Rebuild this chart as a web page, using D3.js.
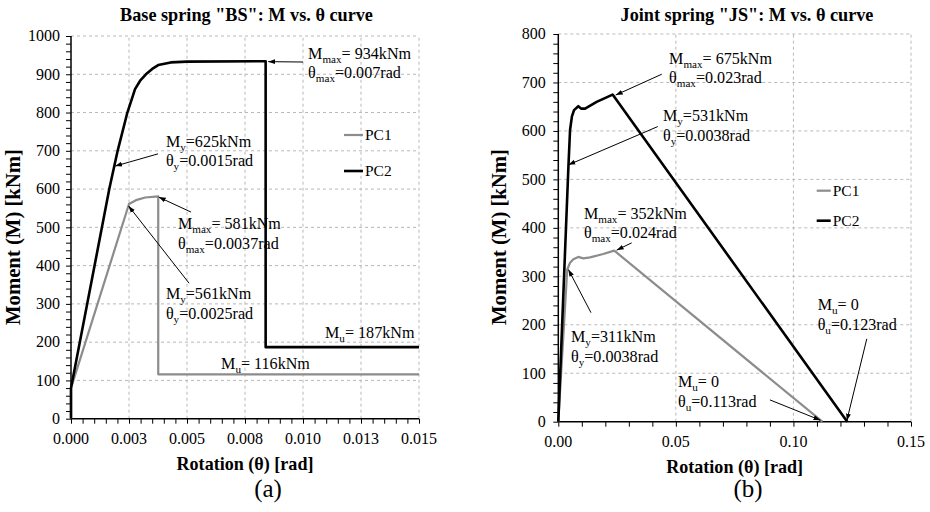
<!DOCTYPE html>
<html><head><meta charset="utf-8">
<script src="https://cdn.jsdelivr.net/npm/d3@7"></script>
<style>
html,body{margin:0;padding:0;background:#fff;}
svg{display:block;}
</style></head>
<body>
<svg id="chart" width="930" height="512" font-family="Liberation Serif, DejaVu Serif, serif"></svg>
<script>
// ---------- DATA ----------
const seriesNames = ["PC1", "PC2"];
// (a) Base spring "BS"
const bsPC1 = [[0,0],[0,80],[0.0025,561],[0.0028,571],[0.0032,578],[0.00376,581],[0.00376,116],[0.015,116]];
const bsPC2 = [[0,0],[0,80],[0.00165,600],[0.00201,700],[0.00243,800],[0.00276,861],[0.0030,885],[0.00323,900],[0.0035,914],[0.00376,924],[0.0043,931],[0.005,933],[0.00839,934],[0.00839,187],[0.015,187]];
const bsXTicks = [0,0.0025,0.005,0.0075,0.01,0.0125,0.015];
const bsXTickLabels = ["0.000","0.003","0.005","0.008","0.010","0.013","0.015"];
const bsYTicks = [0,100,200,300,400,500,600,700,800,900,1000];
// annotations: [lines], text anchor (theta, M), arrow from, arrow to
const bsNotes = [
  {lines:[["M","max","= 934kNm"],["θ","max","=0.007rad"]], at:[0.01022,955], from:[0.0100,932], to:[0.0085,933]},
  {lines:[["M","y","=625kNm"],["θ","y","=0.0015rad"]], at:[0.00409,725], from:[0.00375,692], to:[0.0019,660]},
  {lines:[["M","max","= 581kNm"],["θ","max","=0.0037rad"]], at:[0.00461,509], from:[0.00517,540], to:[0.00378,579]},
  {lines:[["M","y","=561kNm"],["θ","y","=0.0025rad"]], at:[0.00409,326], from:[0.00509,354], to:[0.00248,556]},
  {lines:[["M","u","= 187kNm"]], at:[0.01095,224]},
  {lines:[["M","u","= 116kNm"]], at:[0.00647,145]}
];
// (b) Joint spring "JS"
const jsPC1 = [[0,0],[0.0038,314],[0.005,328],[0.0064,335],[0.0085,340],[0.0106,337],[0.0135,339],[0.0191,346],[0.0238,353],[0.1123,0]];
const jsPC2 = [[0,0],[0.0043,526],[0.005,602],[0.0058,630],[0.0067,643],[0.0085,651],[0.0097,646],[0.0114,646],[0.0163,660],[0.0231,675],[0.1229,0]];
const jsXTicks = [0,0.05,0.10,0.15];
const jsXTickLabels = ["0.00","0.05","0.10","0.15"];
const jsYTicks = [0,100,200,300,400,500,600,700,800];
const jsNotes = [
  {lines:[["M","max","= 675kNm"],["θ","max","=0.023rad"]], at:[0.0471,750], from:[0.044,717], to:[0.0244,674]},
  {lines:[["M","y","=531kNm"],["θ","y","=0.0038rad"]], at:[0.0445,631], from:[0.0423,609], to:[0.0043,530]},
  {lines:[["M","max","= 352kNm"],["θ","max","=0.024rad"]], at:[0.0109,430], from:[0.0312,369], to:[0.0248,354]},
  {lines:[["M","y","=311kNm"],["θ","y","=0.0038rad"]], at:[0.0054,175], from:[0.0139,225], to:[0.0043,314]},
  {lines:[["M","u","= 0"],["θ","u","=0.113rad"]], at:[0.0509,82], from:[0.090,45], to:[0.1115,3]},
  {lines:[["M","u","= 0"],["θ","u","=0.123rad"]], at:[0.1103,241], from:[0.1312,171], to:[0.1227,2]}
];

// ---------- DRAW ----------
const FONT = "Liberation Serif, DejaVu Serif, serif";
const svg = d3.select("#chart");
const defs = svg.append("defs");
defs.append("marker").attr("id","arr").attr("viewBox","0 0 10 10").attr("refX",10).attr("refY",5)
  .attr("markerWidth",7).attr("markerHeight",7).attr("markerUnits","userSpaceOnUse").attr("orient","auto")
  .append("path").attr("d","M0,1.5 L10,5 L0,8.5 Z").attr("fill","#000");

const colors = {PC1:"#8c8c8c", PC2:"#000"};
const widths = {PC1:2.2, PC2:2.6};
const SUB = 0.69;

function txt(g){ return g.append("text").attr("font-family",FONT).attr("fill","#000"); }
function noteText(t, ln, fs){
  t.attr("font-size",fs);
  t.append("tspan").text(ln[0]);
  t.append("tspan").attr("font-size",fs*SUB).attr("dy",fs*0.25).text(ln[1]);
  t.append("tspan").attr("dy",-fs*0.25).text(ln[2]);
}
// choose font sizes so that sample strings have the widths seen in the reference
function fit(target, weight, build){
  const t = txt(svg).attr("font-weight",weight).attr("font-size",20);
  build(t, 20);
  const w = t.node().getComputedTextLength();
  t.remove();
  return 20*target/w;
}
const FS = {
  tick: fit(36,"normal",(t)=>t.text("0.000")),
  note: fit(103,"normal",(t,f)=>noteText(t,["M","max","= 934kNm"],f)),
  legend: fit(26.7,"normal",(t)=>t.text("PC1")),
  title: fit(253,"bold",(t)=>t.text('Base spring "BS": M vs. θ curve')),
  xTitle: fit(137,"bold",(t)=>t.text("Rotation (θ) [rad]")),
  yTitle: fit(176,"bold",(t)=>t.text("Moment (M) [kNm]")),
  label: fit(27.7,"normal",(t)=>t.text("(a)"))
};

function panel(cfg){
  const g = svg.append("g");
  const x = d3.scaleLinear().domain(cfg.xDomain).range(cfg.xRange);
  const y = d3.scaleLinear().domain(cfg.yDomain).range(cfg.yRange);
  const [x0,x1] = cfg.xRange, [y0,y1] = cfg.yRange;
  // grid
  const grid = g.append("g").attr("stroke","#b8b8b8").attr("stroke-width",1).attr("stroke-dasharray","3,3");
  grid.selectAll(".gx").data(cfg.xTicks.slice(1)).join("line")
    .attr("x1",d=>x(d)).attr("x2",d=>x(d)).attr("y1",y0).attr("y2",y1);
  grid.selectAll(".gy").data(cfg.yTicks.slice(1)).join("line")
    .attr("y1",d=>y(d)).attr("y2",d=>y(d)).attr("x1",x0).attr("x2",x1);
  // axes
  const xAxis = d3.axisBottom(x).tickValues(cfg.xMinor).tickSize(5).tickFormat("");
  g.append("g").attr("transform",`translate(0,${y0})`).call(xAxis)
    .call(a=>a.select(".domain").attr("stroke","#000").attr("stroke-width",1.5).attr("d",`M${x0},0H${x1}`))
    .call(a=>a.selectAll(".tick line").attr("stroke","#000").attr("stroke-width",1));
  const yAxis = d3.axisLeft(y).tickValues(cfg.yMinor).tickSize(5).tickFormat("");
  g.append("g").attr("transform",`translate(${x0},0)`).call(yAxis)
    .call(a=>a.select(".domain").attr("stroke","#000").attr("stroke-width",1.5).attr("d",`M0,${y0}V${y1}`))
    .call(a=>a.selectAll(".tick line").attr("stroke","#000").attr("stroke-width",1));
  // tick labels
  cfg.xTicks.forEach((d,i)=>{
    txt(g).attr("x",x(d)).attr("y",y0+25.5).attr("text-anchor","middle").attr("font-size",FS.tick).text(cfg.xTickLabels[i]);
  });
  cfg.yTicks.forEach(d=>{
    txt(g).attr("x",x0-cfg.yLabelGap).attr("y",y(d)+FS.tick*0.33).attr("text-anchor","end").attr("font-size",FS.tick).text(d);
  });
  // series
  const line = d3.line().x(d=>x(d[0])).y(d=>y(d[1]));
  cfg.series.forEach((s,i)=>{
    g.append("path").datum(s).attr("d",line).attr("fill","none")
      .attr("stroke",colors[seriesNames[i]]).attr("stroke-width",widths[seriesNames[i]])
      .attr("stroke-linejoin","round");
  });
  // legend
  seriesNames.forEach((n,i)=>{
    const ly = cfg.legend[1] + i*cfg.legendGap;
    g.append("line").attr("x1",cfg.legend[0]).attr("x2",cfg.legend[0]+cfg.legendLen)
      .attr("y1",ly).attr("y2",ly).attr("stroke",colors[n]).attr("stroke-width",widths[n]);
    txt(g).attr("x",cfg.legend[0]+cfg.legendLen+2).attr("y",ly+FS.legend*0.34).attr("font-size",FS.legend).text(n);
  });
  // annotations
  cfg.notes.forEach(n=>{
    if(n.from){
      g.append("line").attr("x1",x(n.from[0])).attr("y1",y(n.from[1]))
        .attr("x2",x(n.to[0])).attr("y2",y(n.to[1]))
        .attr("stroke","#000").attr("stroke-width",1).attr("marker-end","url(#arr)");
    }
    n.lines.forEach((ln,k)=>{
      const t = txt(g).attr("x",x(n.at[0])).attr("y",y(n.at[1])+FS.note*0.34+k*19.5);
      noteText(t, ln, FS.note);
    });
  });
  // titles
  txt(g).attr("x",cfg.titleX).attr("y",20.5).attr("text-anchor","middle")
    .attr("font-weight","bold").attr("font-size",FS.title).text(cfg.title);
  txt(g).attr("x",(x0+x1)/2).attr("y",y0+51).attr("text-anchor","middle")
    .attr("font-weight","bold").attr("font-size",FS.xTitle).text("Rotation (θ) [rad]");
  txt(g).attr("transform",`translate(${cfg.yTitle[0]},${cfg.yTitle[1]}) rotate(-90)`).attr("text-anchor","middle")
    .attr("font-weight","bold").attr("font-size",FS.yTitle).text("Moment (M) [kNm]");
  txt(g).attr("x",cfg.labelX).attr("y",497).attr("text-anchor","middle")
    .attr("font-size",FS.label).text(cfg.label);
}

panel({
  xDomain:[0,0.015], xRange:[71,419], yDomain:[0,1000], yRange:[418.7,36],
  xTicks:bsXTicks, xTickLabels:bsXTickLabels, yTicks:bsYTicks, yLabelGap:11,
  xMinor:d3.range(0,31).map(i=>i*0.0005), yMinor:d3.range(0,51).map(i=>i*20),
  series:[bsPC1,bsPC2], notes:bsNotes,
  legend:[344,135], legendLen:19, legendGap:36,
  title:'Base spring "BS": M vs. θ curve', titleX:246.5,
  yTitle:[20,237], label:"(a)", labelX:268
});
panel({
  xDomain:[0,0.15], xRange:[558.3,911], yDomain:[0,800], yRange:[421.7,34],
  xTicks:jsXTicks, xTickLabels:jsXTickLabels, yTicks:jsYTicks, yLabelGap:12.5,
  xMinor:d3.range(0,16).map(i=>i*0.01), yMinor:d3.range(0,41).map(i=>i*20),
  series:[jsPC1,jsPC2], notes:jsNotes,
  legend:[816.7,190.7], legendLen:14, legendGap:30,
  title:'Joint spring "JS": M vs. θ curve', titleX:747,
  yTitle:[505.5,237], label:"(b)", labelX:748
});
</script>
</body></html>
